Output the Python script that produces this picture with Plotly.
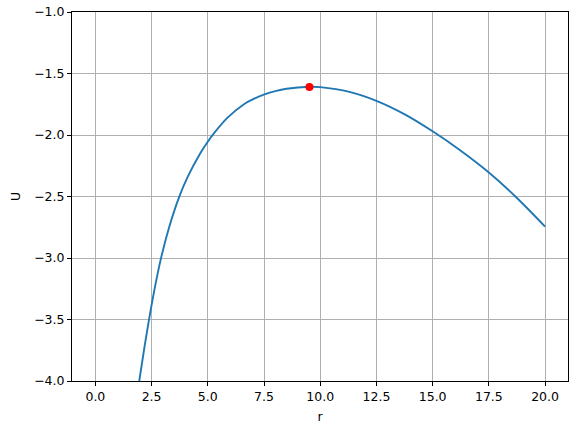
import plotly.graph_objects as go

# values
r_vals = [1.95, 2.19, 2.41, 2.64, 2.93, 3.30, 3.72, 4.12, 4.64, 4.96, 5.27, 5.89,
          6.64, 7.0, 7.52, 8.0, 8.5, 9.52, 10.0, 11.3, 12.5, 13.82, 15.0, 16.19,
          17.5, 18.68, 20.0]
u_vals = [-4.0, -3.717, -3.475, -3.245, -2.993, -2.738, -2.507, -2.335, -2.156,
          -2.065, -1.987, -1.857, -1.746, -1.71, -1.67, -1.643, -1.624, -1.608,
          -1.611, -1.649, -1.722, -1.838, -1.97, -2.12, -2.305, -2.5, -2.745]

peak_r = [9.52]
peak_u = [-1.61]

x_ticks = [0.0, 2.5, 5.0, 7.5, 10.0, 12.5, 15.0, 17.5, 20.0]
y_ticks = [-4.0, -3.5, -3.0, -2.5, -2.0, -1.5, -1.0]

font = dict(family="DejaVu Sans", size=12.5, color="black")

fig = go.Figure()

fig.add_trace(
    go.Scatter(
        x=r_vals,
        y=u_vals,
        mode="lines",
        line=dict(color="#1f77b4", width=1.9, shape="spline", smoothing=1.0),
        showlegend=False,
    )
)

fig.add_trace(
    go.Scatter(
        x=peak_r,
        y=peak_u,
        mode="markers",
        marker=dict(color="red", size=8),
        showlegend=False,
    )
)

axis_style = dict(
    showline=True,
    mirror=True,
    linecolor="black",
    linewidth=1,
    ticks="outside",
    ticklen=4,
    tickwidth=1,
    tickcolor="black",
    showgrid=True,
    gridcolor="#b0b0b0",
    gridwidth=1,
    zeroline=False,
    tickfont=font,
    tickformat=".1f",
    automargin=False,
)

fig.update_layout(
    width=577,
    height=426,
    margin=dict(l=72, r=9, t=12, b=45),
    paper_bgcolor="white",
    plot_bgcolor="white",
    font=font,
    xaxis=dict(
        axis_style,
        range=[-1.04, 21.02],
        tickvals=x_ticks,
        title=dict(text="r", font=font, standoff=9),
    ),
    yaxis=dict(
        axis_style,
        range=[-4.0, -1.0],
        tickvals=y_ticks,
        title=dict(text="U", font=font, standoff=10),
    ),
)

# drop the page's default body margin so the figure sits at the window corner
fig.write_html(
    "out.html",
    config={"displayModeBar": False},
    post_script="document.body.style.margin = '0px';",
)
